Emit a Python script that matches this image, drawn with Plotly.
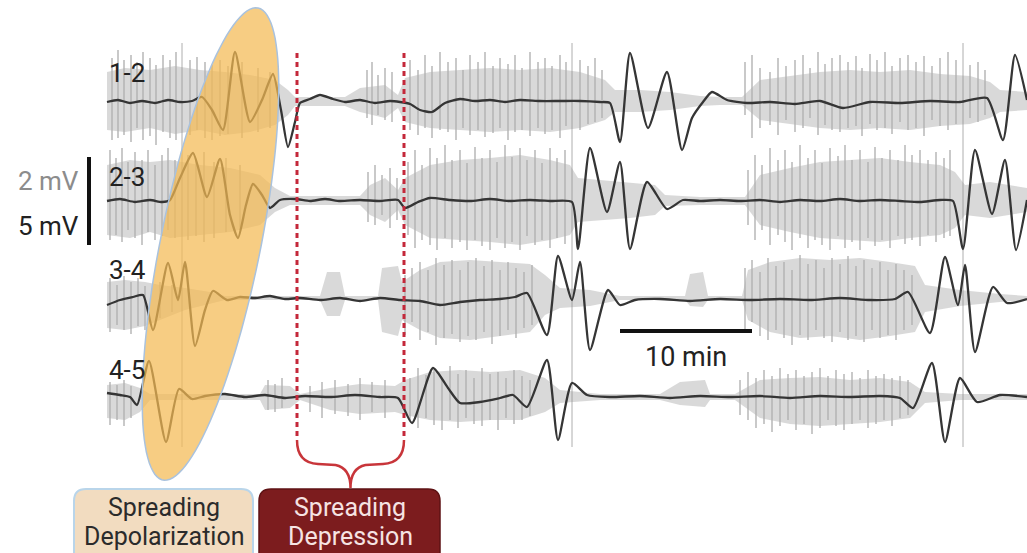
import numpy as np
import plotly.graph_objects as go

# ---------------- data (x = time axis units, y = screen-like units) -------------
channels = ["1-2", "2-3", "3-4", "4-5"]
label_y = [73, 177, 270, 370]

# dark (slow, DC) traces: (x, y) pairs
dc_12 = [(107,102),(118,100),(130,103),(142,101),(155,103),(168,100),(180,102),(192,101),(202,97),(212,110),
         (223,130),(235,52),(250,122),(262,100),(273,74),(281,110),(288,147),(295,122),(300,103),(310,99),
         (320,95),(333,99),(345,102),(360,100),(375,103),(390,101),(400,102),(410,104),(420,110),(432,112),
         (445,103),(460,99),(475,101),(490,100),(505,102),(520,100),(540,101),(560,101),(580,101),(600,102),
         (610,103),(620,142),(630,53),(648,128),(667,72),(682,150),(692,118),(703,102),(712,92),(727,100),
         (747,103),(770,102),(795,104),(820,101),(843,108),(870,102),(900,103),(930,101),(960,102),(987,98),
         (1003,140),(1015,55),(1027,100)]
dc_23 = [(107,201),(120,199),(135,202),(150,200),(162,202),(170,200),(180,178),(193,153),(207,197),(220,159),
         (230,215),(238,238),(246,205),(253,184),(262,195),(270,208),(280,200),(295,199),(310,201),(325,199),
         (340,201),(360,200),(380,201),(398,200),(405,208),(418,202),(430,198),(450,200),(470,201),(490,199),
         (510,201),(530,200),(550,201),(572,202),(578,249),(590,148),(607,212),(620,162),(630,249),(647,182),
         (667,209),(683,200),(700,201),(720,200),(740,201),(760,200),(780,202),(800,200),(820,201),(840,199),
         (860,201),(880,200),(900,201),(920,202),(940,200),(953,201),(963,249),(975,150),(992,214),(1005,160),
         (1016,250),(1027,200)]
dc_34 = [(107,305),(120,300),(133,297),(143,295),(153,330),(168,263),(178,300),(185,262),(195,346),(205,310),
         (213,291),(227,300),(240,297),(255,298),(270,296),(285,299),(300,298),(320,300),(340,298),(360,301),
         (380,298),(400,300),(420,301),(440,305),(460,302),(480,300),(500,299),(515,297),(527,293),(547,335),
         (558,256),(572,300),(580,262),(590,350),(608,290),(620,305),(635,300),(660,299),(690,301),(720,299),
         (750,300),(780,299),(810,300),(840,298),(870,300),(895,299),(908,292),(930,333),(945,257),(958,305),
         (965,265),(975,352),(993,287),(1007,303),(1027,299)]
dc_45 = [(107,393),(120,395),(130,397),(137,405),(149,361),(166,442),(179,389),(192,399),(205,396),(225,394),
         (245,397),(265,395),(285,398),(305,396),(330,397),(355,395),(380,397),(398,398),(412,423),(433,368),
         (448,388),(460,403),(480,402),(500,398),(513,395),(527,407),(547,360),(558,440),(572,383),(587,395),
         (610,397),(640,396),(670,398),(700,396),(730,397),(760,396),(790,398),(820,396),(850,397),(880,396),
         (900,398),(913,408),(932,363),(945,442),(960,378),(977,402),(1000,395),(1027,397)]

# grey (fast, AC) activity envelopes: x, top, bottom
env_12_x = [107,125,150,175,200,225,250,275,288,295,345,360,385,398,405,430,460,490,520,550,580,605,615,640,670,700,720,742,760,790,820,850,880,910,940,970,990,1000,1027]
env_12_t = [72,68,70,66,70,72,75,80,90,97,97,88,85,95,78,72,70,68,70,68,72,80,90,90,92,96,97,97,80,76,72,70,72,70,74,76,82,90,92]
env_12_b = [130,132,128,134,130,135,132,125,115,106,106,112,118,108,122,128,130,132,130,132,128,120,112,112,110,106,105,105,120,124,128,130,128,130,126,124,118,112,110]
env_23_x = [107,130,150,170,200,230,260,275,290,360,370,385,398,405,430,460,490,520,550,570,578,600,630,655,665,700,745,760,790,820,850,880,910,940,955,965,990,1010,1027]
env_23_t = [165,160,162,160,165,168,175,188,196,196,185,178,190,178,165,160,158,155,160,165,178,180,182,185,195,197,197,175,168,162,160,158,162,165,172,185,182,185,188]
env_23_b = [235,238,232,238,235,232,225,212,205,205,215,222,210,225,238,240,242,245,240,235,222,220,218,215,206,205,205,225,232,238,240,242,238,235,228,215,218,215,212]
env_34_x = [107,125,145,160,185,210,225,320,327,340,345,378,382,398,402,420,440,470,500,530,545,560,590,620,685,690,703,708,742,748,770,800,830,860,890,915,925,960,1000,1027]
env_34_t = [282,280,282,285,288,292,296,296,272,272,296,296,268,266,282,270,262,260,262,264,275,288,290,296,296,274,272,296,296,270,262,258,260,258,262,266,285,290,294,296]
env_34_b = [328,330,326,320,310,304,300,300,316,316,300,300,332,336,320,330,338,340,336,332,315,308,306,300,300,306,307,300,300,320,332,338,336,340,336,332,312,306,302,300]
env_45_x = [107,125,140,150,260,265,290,300,330,360,395,405,430,460,490,520,545,560,600,660,680,705,710,735,760,790,820,850,880,910,925,960,1027]
env_45_t = [385,383,388,394,394,385,386,394,388,384,386,380,372,370,372,370,378,390,394,394,382,380,394,394,380,378,377,380,378,382,392,394,394]
env_45_b = [418,420,412,400,400,410,408,400,410,414,412,415,420,422,420,420,412,403,400,400,405,407,400,400,418,424,426,424,422,418,403,400,400]

# individual spikes: (x, top, bottom)
spk_12 = [(112,58,140),(118,50,138),(124,60,135),(131,55,142),(137,62,128),(143,52,140),(150,58,136),(156,65,145),
          (163,55,132),(170,60,138),(176,52,140),(190,60,135),(197,57,130),(205,62,138),(212,65,140),(220,60,136),
          (228,66,134),(242,62,138),(258,68,132),(270,72,128),(367,70,118),(372,62,125),(378,75,115),(385,68,120),
          (392,72,122),(410,60,130),(418,70,135),(425,55,128),(432,66,138),(440,52,130),(448,62,132),(456,58,140),
          (463,70,128),(470,55,135),(478,62,130),(485,52,137),(493,66,133),(500,58,128),(508,64,140),(515,55,132),
          (522,68,130),(530,52,136),(538,62,128),(545,58,134),(552,66,130),(560,55,138),(566,62,126),(580,60,130),
          (588,66,124),(595,58,122),(602,70,118),(745,62,115),(752,55,138),(760,68,128),(770,72,125),(778,58,135),
          (786,66,120),(795,60,132),(803,55,128),(810,68,118),(818,52,135),(825,64,125),(832,58,130),(840,55,132),
          (848,62,128),(856,56,126),(862,68,136),(870,54,124),(877,60,130),(885,52,128),(892,66,134),(900,58,122),
          (908,55,130),(916,62,128),(924,56,136),(932,66,120),(940,58,126),(948,52,130),(956,60,124),(970,65,118),
          (978,62,122),(985,70,115)]
spk_23 = [(110,150,240),(116,158,235),(122,148,242),(128,162,230),(135,152,238),(142,160,245),(148,150,232),
          (155,165,240),(162,155,236),(168,148,230),(175,160,238),(188,155,240),(196,160,236),(204,152,242),
          (214,162,238),(226,158,232),(240,165,230),(368,172,222),(375,165,225),(382,175,215),(390,168,228),
          (397,178,220),(408,162,235),(415,150,248),(422,165,240),(430,148,245),(437,158,250),(445,145,238),
          (452,160,248),(460,150,242),(467,163,250),(475,147,240),(482,158,246),(490,150,250),(497,162,238),
          (505,145,248),(512,157,242),(520,148,250),(527,160,236),(535,150,245),(542,163,240),(550,148,248),
          (557,158,238),(565,150,244),(748,170,225),(755,155,240),(762,165,230),(770,148,245),(778,160,235),
          (785,150,242),(792,162,250),(800,145,238),(808,158,248),(815,150,240),(822,163,245),(830,148,250),
          (838,156,236),(845,145,248),(852,160,242),(860,150,250),(868,162,238),(875,147,246),(882,158,240),
          (890,150,248),(898,160,236),(905,145,244),(912,155,240),(920,150,246),(928,160,235),(936,152,242),
          (944,158,238),(950,150,236)]
spk_34 = [(110,278,332),(117,285,325),(124,276,330),(131,282,334),(138,278,326),(145,286,330),(160,282,318),
          (172,285,312),(405,275,335),(412,268,322),(420,262,340),(428,270,332),(436,258,345),(444,265,338),
          (452,260,334),(460,270,342),(468,262,336),(476,258,340),(484,266,332),(492,260,344),(500,270,336),
          (508,262,330),(516,268,338),(524,272,328),(532,265,325),(745,268,330),(752,260,322),(760,272,336),
          (768,258,340),(776,266,330),(784,262,338),(792,270,345),(800,255,335),(808,264,340),(816,260,330),
          (824,268,338),(832,258,342),(840,264,332),(848,256,340),(856,266,336),(864,260,342),(872,268,330),
          (880,262,338),(888,270,335),(896,264,340),(904,270,330),(912,275,325)]
spk_45 = [(110,382,425),(117,385,420),(124,380,426),(131,386,418),(268,380,410),(275,384,412),(282,378,408),
          (310,386,412),(322,382,418),(335,380,414),(348,384,416),(360,378,420),(372,382,412),(385,380,418),
          (410,378,420),(418,368,428),(426,375,418),(434,370,425),(442,380,430),(450,366,420),(458,374,428),
          (466,370,418),(474,378,424),(482,368,426),(490,374,420),(498,372,430),(506,378,418),(514,370,424),
          (522,376,420),(530,380,416),(740,380,415),(748,372,420),(756,378,428),(764,370,424),(772,376,432),
          (780,368,426),(788,374,420),(796,370,430),(804,376,424),(812,372,434),(820,368,428),(828,376,420),
          (836,370,426),(844,374,430),(852,372,424),(860,378,420),(868,370,428),(876,376,424),(884,374,420),
          (892,378,426),(900,376,418),(908,380,415)]

event_marks_x = [182, 572, 963]
sd_window = [297, 404]          # spreading-depression interval (dashed lines)
sd_ellipse = dict(top=(258, 8), bottom=(163, 480), half_width=50)

dc_list = [dc_12, dc_23, dc_34, dc_45]
env_list = [(env_12_x, env_12_t, env_12_b), (env_23_x, env_23_t, env_23_b),
            (env_34_x, env_34_t, env_34_b), (env_45_x, env_45_t, env_45_b)]
spk_list = [spk_12, spk_23, spk_34, spk_45]

# ---------------- figure -------------
fig = go.Figure()

for ex, et, eb in env_list:
    fig.add_trace(go.Scatter(x=list(ex) + list(ex)[::-1], y=list(et) + list(eb)[::-1],
                             fill="toself", fillcolor="rgba(208,208,208,0.8)",
                             line=dict(width=0), mode="lines", hoverinfo="skip", showlegend=False))

for spk in spk_list:
    xs, ys = [], []
    for x, t, b in spk:
        xs += [x, x, None]
        ys += [t, b, None]
    fig.add_trace(go.Scatter(x=xs, y=ys, mode="lines",
                             line=dict(color="rgba(175,175,175,0.85)", width=1.6),
                             hoverinfo="skip", showlegend=False))

xs, ys = [], []
for x in event_marks_x:
    xs += [x, x, None]
    ys += [43, 447, None]
fig.add_trace(go.Scatter(x=xs, y=ys, mode="lines", line=dict(color="rgba(140,140,140,0.7)", width=1),
                         hoverinfo="skip", showlegend=False))

for dc in dc_list:
    fig.add_trace(go.Scatter(x=[p[0] for p in dc], y=[p[1] for p in dc], mode="lines",
                             line=dict(color="#353535", width=2.3, shape="spline", smoothing=0.6),
                             hoverinfo="skip", showlegend=False))

shapes = []
# ellipse (computed outline)
(tx, ty), (bx, by) = sd_ellipse["top"], sd_ellipse["bottom"]
cx, cy = (tx + bx) / 2, (ty + by) / 2
a = np.hypot(tx - bx, ty - by) / 2
ang = np.arctan2(ty - by, tx - bx)
bw = sd_ellipse["half_width"]
th = np.linspace(0, 2 * np.pi, 120)
px = cx + a * np.cos(th) * np.cos(ang) - bw * np.sin(th) * np.sin(ang)
py = cy + a * np.cos(th) * np.sin(ang) + bw * np.sin(th) * np.cos(ang)
path = "M " + " L ".join(f"{u:.1f},{v:.1f}" for u, v in zip(px, py)) + " Z"
shapes.append(dict(type="path", path=path, xref="x", yref="y", layer="above",
                   fillcolor="rgba(244,186,83,0.72)", line=dict(color="#a9c2de", width=1.5)))

for x in sd_window:
    shapes.append(dict(type="line", x0=x, x1=x, y0=53, y1=440, xref="x", yref="y", layer="above",
                       line=dict(color="#c4283a", width=3, dash="5px,4px")))
l, r = sd_window
m = (l + r) / 2
brace = (f"M {l},440 Q {l},463 {l+21},464 L {m-15},465 Q {m},468 {m},488 "
         f"Q {m},468 {m+15},465 L {r-21},464 Q {r},463 {r},440")
shapes.append(dict(type="path", path=brace, xref="x", yref="y", layer="above",
                   line=dict(color="#c8353a", width=2.5)))

def rbox(x0, y0, x1, y1, rad):
    return (f"M {x0+rad},{y0} L {x1-rad},{y0} Q {x1},{y0} {x1},{y0+rad} L {x1},{y1-rad} "
            f"Q {x1},{y1} {x1-rad},{y1} L {x0+rad},{y1} Q {x0},{y1} {x0},{y1-rad} "
            f"L {x0},{y0+rad} Q {x0},{y0} {x0+rad},{y0} Z")

shapes.append(dict(type="path", path=rbox(74, 489, 253, 565, 12), xref="x", yref="y", layer="above",
                   fillcolor="#f2dcc0", line=dict(color="#b9d5ea", width=2)))
shapes.append(dict(type="path", path=rbox(259, 489, 440, 565, 12), xref="x", yref="y", layer="above",
                   fillcolor="#7c1c1e", line=dict(color="#5e1214", width=1.5)))

# scale bars
shapes.append(dict(type="line", x0=89, x1=89, y0=157, y1=245, xref="x", yref="y", layer="above",
                   line=dict(color="#111111", width=4)))
shapes.append(dict(type="line", x0=620, x1=752, y0=331, y1=331, xref="x", yref="y", layer="above",
                   line=dict(color="#111111", width=4)))

FONT = "Roboto, Arial, sans-serif"
ann = []
for name, yy in zip(channels, label_y):
    ann.append(dict(x=107, y=yy, text=name, showarrow=False, xanchor="left", yanchor="middle",
                    font=dict(family=FONT, size=26, color="#222222")))
ann.append(dict(x=81, y=181, text="2 mV", showarrow=False, xanchor="right", yanchor="middle",
                font=dict(family=FONT, size=26, color="#8c8c8c")))
ann.append(dict(x=81, y=226, text="5 mV", showarrow=False, xanchor="right", yanchor="middle",
                font=dict(family=FONT, size=26, color="#222222")))
ann.append(dict(x=686, y=357, text="10 min", showarrow=False, xanchor="center", yanchor="middle",
                font=dict(family=FONT, size=27, color="#222222")))
box_lines = [(164, ["Spreading", "Depolarization"], "#2b2b2b"),
             (350, ["Spreading", "Depression"], "#f6e3e3")]
for bx_c, lines, col in box_lines:
    for yy, txt in zip([507, 536], lines):
        ann.append(dict(x=bx_c, y=yy, text=txt, showarrow=False, xanchor="center", yanchor="middle",
                        font=dict(family=FONT, size=25, color=col)))

fig.update_layout(
    width=1027, height=553, margin=dict(l=0, r=0, t=0, b=0),
    paper_bgcolor="white", plot_bgcolor="white",
    xaxis=dict(range=[0, 1027], visible=False, fixedrange=True),
    yaxis=dict(range=[553, 0], visible=False, fixedrange=True),
    shapes=shapes, annotations=ann, showlegend=False,
)

fig.write_html("out.html")
